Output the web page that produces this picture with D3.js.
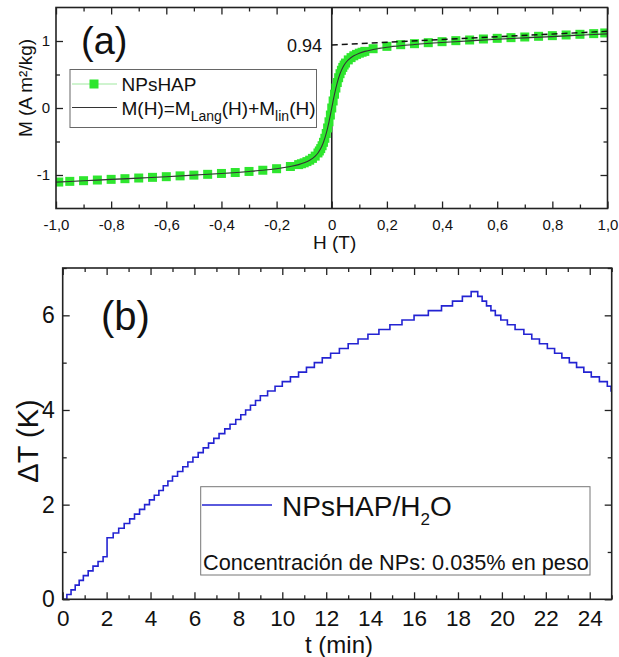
<!DOCTYPE html>
<html>
<head>
<meta charset="utf-8">
<script src="https://cdn.jsdelivr.net/npm/d3@7"></script>
<style>
  html, body { margin: 0; padding: 0; background: #fff; }
  svg { display: block; font-family: "Liberation Sans", Arial, sans-serif; }
</style>
</head>
<body>
<svg id="fig" width="619" height="657"></svg>
<script>
// ---------- Panel (a): magnetization curve ----------
const magH = [-0.99,-0.95,-0.90,-0.85,-0.80,-0.75,-0.70,-0.65,-0.60,-0.55,-0.50,-0.45,-0.40,-0.35,-0.30,-0.25,-0.20,-0.15,
  -0.12,-0.11,-0.10,-0.09,-0.08,-0.07,-0.06,-0.05,-0.045,-0.04,-0.035,-0.03,-0.025,-0.02,-0.015,-0.01,-0.005,0,
  0.005,0.01,0.015,0.02,0.025,0.03,0.035,0.04,0.045,0.05,0.06,0.07,0.08,0.09,0.10,0.11,0.12,
  0.15,0.20,0.25,0.30,0.35,0.40,0.45,0.50,0.55,0.60,0.65,0.70,0.75,0.80,0.85,0.90,0.95,0.99];
const magM = [-1.105,-1.095,-1.085,-1.075,-1.065,-1.055,-1.045,-1.035,-1.025,-1.013,-1.002,-0.99,-0.977,-0.963,-0.947,-0.929,-0.906,-0.873,
  -0.845,-0.832,-0.818,-0.800,-0.779,-0.752,-0.718,-0.671,-0.641,-0.606,-0.563,-0.512,-0.452,-0.380,-0.298,-0.206,-0.105,0,
  0.105,0.206,0.298,0.380,0.452,0.512,0.563,0.606,0.641,0.671,0.718,0.752,0.779,0.800,0.818,0.832,0.845,
  0.885,0.92,0.945,0.96,0.975,0.99,1.005,1.015,1.03,1.04,1.05,1.06,1.07,1.08,1.09,1.10,1.11,1.12];

// fitted M(H) = M_Lang(H) + M_lin(H)
const fitH = [-1,-0.9,-0.8,-0.7,-0.6,-0.5,-0.4,-0.3,-0.25,-0.2,-0.15,-0.12,-0.1,-0.08,-0.06,-0.05,-0.04,-0.03,-0.02,-0.01,0,
  0.01,0.02,0.03,0.04,0.05,0.06,0.08,0.1,0.12,0.15,0.2,0.25,0.3,0.4,0.5,0.6,0.7,0.8,0.9,1];
const fitM = [-1.106,-1.086,-1.066,-1.046,-1.025,-1.002,-0.977,-0.947,-0.929,-0.906,-0.873,-0.845,-0.818,-0.779,-0.718,-0.671,-0.606,-0.512,-0.380,-0.206,0,
  0.206,0.380,0.512,0.606,0.671,0.718,0.779,0.818,0.845,0.873,0.906,0.929,0.947,0.977,1.002,1.025,1.046,1.066,1.086,1.106];

// saturation asymptote (linear term extrapolated from Ms)
const satH = [0, 1];
const satM = [0.94, 1.145];
const satLabel = "0.94";

const xTicksA = [-1,-0.8,-0.6,-0.4,-0.2,0,0.2,0.4,0.6,0.8,1];
const xTickLabelsA = ["-1,0","-0,8","-0,6","-0,4","-0,2","0","0,2","0,4","0,6","0,8","1,0"];
const xMinorA = [-0.9,-0.7,-0.5,-0.3,-0.1,0.1,0.3,0.5,0.7,0.9];
const yTicksA = [-1,0,1];
const yTickLabelsA = ["-1","0","1"];
const yMinorA = [-0.5,0.5];

// ---------- Panel (b): heating curve ----------
const heatT = [0,0.19,0.38,0.57,0.75,0.94,1.16,1.38,1.61,1.84,2.02,2.3,2.55,2.8,3.05,3.27,3.5,3.73,3.95,
  4.17,4.38,4.58,4.79,5.0,5.23,5.47,5.7,5.93,6.17,6.4,6.64,6.88,7.12,7.38,7.62,7.88,8.11,8.33,8.55,8.78,
  9.0,9.33,9.67,10.0,10.37,10.74,11.1,11.46,11.82,12.2,12.6,13.0,13.45,13.9,14.4,14.9,15.45,16.0,16.65,
  17.25,17.75,18.2,18.6,18.9,19.1,19.3,19.5,19.7,19.95,20.25,20.6,21.0,21.36,21.71,22.07,22.4,22.73,
  23.07,23.4,23.73,24.07,24.44,24.8,24.97,25.0];
const heatDT = [0,0.1,0.2,0.3,0.4,0.5,0.6,0.7,0.8,0.9,1.3,1.4,1.5,1.6,1.7,1.8,1.9,2.0,2.1,
  2.2,2.3,2.4,2.5,2.6,2.7,2.8,2.9,3.0,3.1,3.2,3.3,3.4,3.5,3.6,3.7,3.8,3.9,4.0,4.1,4.2,
  4.3,4.4,4.5,4.6,4.7,4.8,4.9,5.0,5.1,5.2,5.3,5.4,5.5,5.6,5.7,5.8,5.9,6.0,6.1,
  6.2,6.3,6.4,6.5,6.4,6.3,6.2,6.1,6.0,5.9,5.8,5.7,5.6,5.5,5.4,5.3,5.2,5.1,
  5.0,4.9,4.8,4.7,4.6,4.5,4.4,4.4];

const xTicksB = [0,2,4,6,8,10,12,14,16,18,20,22,24];
const xTickLabelsB = ["0","2","4","6","8","10","12","14","16","18","20","22","24"];
const xMinorB = [1,3,5,7,9,11,13,15,17,19,21,23,25];
const yTicksB = [0,2,4,6];
const yTickLabelsB = ["0","2","4","6"];
const yMinorB = [1,3,5,7];

const svg = d3.select("#fig");
svg.append("rect").attr("width", 619).attr("height", 657).attr("fill", "#fff");

const FRAME = "#222";

function styleAxis(g) {
  g.select(".domain").remove();
  g.selectAll(".tick line").attr("stroke", FRAME).attr("stroke-width", 1.3);
  g.selectAll(".tick text").attr("fill", "#111");
}

function drawAxes(g, x, y, box, opt) {
  const [x0, x1, y0, y1] = box;
  // bottom (labelled) and top (mirrored) axes
  g.append("g").attr("transform", `translate(0,${y0})`)
    .call(d3.axisBottom(x).tickValues(opt.xt).tickSize(-opt.maj).tickPadding(opt.xpad)
      .tickFormat((d, i) => opt.xl[i]))
    .call(styleAxis)
    .call(s => s.selectAll("text").attr("font-size", opt.xfs).attr("font-family", null));
  g.append("g").attr("transform", `translate(0,${y0})`)
    .call(d3.axisBottom(x).tickValues(opt.xm).tickSize(-opt.min).tickFormat(""))
    .call(styleAxis);
  g.append("g").attr("transform", `translate(0,${y1})`)
    .call(d3.axisTop(x).tickValues(opt.xt).tickSize(-opt.maj).tickFormat(""))
    .call(styleAxis);
  g.append("g").attr("transform", `translate(0,${y1})`)
    .call(d3.axisTop(x).tickValues(opt.xm).tickSize(-opt.min).tickFormat(""))
    .call(styleAxis);
  // left (labelled) and right (mirrored) axes
  g.append("g").attr("transform", `translate(${x0},0)`)
    .call(d3.axisLeft(y).tickValues(opt.yt).tickSize(-opt.maj).tickPadding(opt.ypad)
      .tickFormat((d, i) => opt.yl[i]))
    .call(styleAxis)
    .call(s => s.selectAll("text").attr("font-size", opt.yfs).attr("font-family", null));
  g.append("g").attr("transform", `translate(${x0},0)`)
    .call(d3.axisLeft(y).tickValues(opt.ym).tickSize(-opt.min).tickFormat(""))
    .call(styleAxis);
  g.append("g").attr("transform", `translate(${x1},0)`)
    .call(d3.axisRight(y).tickValues(opt.yt).tickSize(-opt.maj).tickFormat(""))
    .call(styleAxis);
  g.append("g").attr("transform", `translate(${x1},0)`)
    .call(d3.axisRight(y).tickValues(opt.ym).tickSize(-opt.min).tickFormat(""))
    .call(styleAxis);
  g.append("rect").attr("x", x0).attr("y", y1).attr("width", x1 - x0).attr("height", y0 - y1)
    .attr("fill", "none").attr("stroke", FRAME).attr("stroke-width", 1.6);
}

// ===== Panel (a) =====
{
  const L = 56, R = 607.5, T = 7.5, B = 208.5;
  const x = d3.scaleLinear().domain([-1, 1]).range([L, R]);
  const y = d3.scaleLinear().domain([-1.5, 1.5]).range([B, T]);
  const g = svg.append("g");

  svg.append("clipPath").attr("id", "clipA").append("rect")
    .attr("x", L).attr("y", T).attr("width", R - L).attr("height", B - T);
  const plot = g.append("g").attr("clip-path", "url(#clipA)");

  // zero-field guide
  plot.append("line").attr("x1", x(0)).attr("x2", x(0)).attr("y1", T).attr("y2", B)
    .attr("stroke", "#222").attr("stroke-width", 1.6);

  const pts = magH.map((h, i) => [h, magM[i]]);
  plot.append("path").datum(pts)
    .attr("d", d3.line().x(d => x(d[0])).y(d => y(d[1])))
    .attr("fill", "none").attr("stroke", "#9fe89f").attr("stroke-width", 1);
  plot.selectAll("rect.pt").data(pts).join("rect").attr("class", "pt")
    .attr("x", d => x(d[0]) - 4.5).attr("y", d => y(d[1]) - 4.5)
    .attr("width", 9).attr("height", 9).attr("fill", "#2ee62e");

  const fit = fitH.map((h, i) => [h, fitM[i]]);
  plot.append("path").datum(fit)
    .attr("d", d3.line().curve(d3.curveMonotoneX).x(d => x(d[0])).y(d => y(d[1])))
    .attr("fill", "none").attr("stroke", "#333").attr("stroke-width", 1.1);

  plot.append("line")
    .attr("x1", x(satH[0])).attr("y1", y(satM[0])).attr("x2", x(satH[1])).attr("y2", y(satM[1]))
    .attr("stroke", "#111").attr("stroke-width", 1.4).attr("stroke-dasharray", "6,4");

  g.append("text").attr("x", 322).attr("y", y(satM[0]) + 7).attr("text-anchor", "end")
    .attr("font-size", 18).attr("fill", "#111").text(satLabel);

  drawAxes(g, x, y, [L, R, B, T], {
    xt: xTicksA, xl: xTickLabelsA, xm: xMinorA, yt: yTicksA, yl: yTickLabelsA, ym: yMinorA,
    maj: 7, min: 4, xpad: 11, ypad: 6, xfs: 15, yfs: 15
  });

  g.append("text").attr("x", 313).attr("y", 249).attr("font-size", 19).attr("fill", "#111").text("H (T)");
  g.append("text").attr("transform", "translate(32,88) rotate(-90)").attr("text-anchor", "middle")
    .attr("font-size", 19).attr("fill", "#111").text("M (A m²/kg)");
  g.append("text").attr("x", 81).attr("y", 54).attr("font-size", 38).attr("fill", "#111").text("(a)");

  // legend
  const lg = g.append("g");
  lg.append("rect").attr("x", 70).attr("y", 69.5).attr("width", 246.5).attr("height", 58)
    .attr("fill", "#fff").attr("stroke", "#666").attr("stroke-width", 1);
  lg.append("line").attr("x1", 72).attr("x2", 117).attr("y1", 84).attr("y2", 84)
    .attr("stroke", "#9fe89f").attr("stroke-width", 1);
  lg.append("rect").attr("x", 89.5).attr("y", 79.5).attr("width", 9).attr("height", 9).attr("fill", "#2ee62e");
  lg.append("text").attr("x", 121.5).attr("y", 91).attr("font-size", 19).attr("fill", "#111").text("NPsHAP");
  lg.append("line").attr("x1", 72).attr("x2", 117).attr("y1", 107.5).attr("y2", 107.5)
    .attr("stroke", "#333").attr("stroke-width", 1.1);
  const t2 = lg.append("text").attr("x", 121.5).attr("y", 115).attr("font-size", 19).attr("fill", "#111");
  t2.append("tspan").text("M(H)=M");
  t2.append("tspan").attr("font-size", 14).attr("dy", 6).text("Lang");
  t2.append("tspan").attr("dy", -6).text("(H)+M");
  t2.append("tspan").attr("font-size", 14).attr("dy", 6).text("lin");
  t2.append("tspan").attr("dy", -6).text("(H)");
}

// ===== Panel (b) =====
{
  const L = 62.7, R = 611.7, T = 268, B = 599.3;
  const x = d3.scaleLinear().domain([0, 25]).range([L, R]);
  const y = d3.scaleLinear().domain([0, 7]).range([B, T]);
  const g = svg.append("g");

  svg.append("clipPath").attr("id", "clipB").append("rect")
    .attr("x", L).attr("y", T).attr("width", R - L).attr("height", B - T);
  const plot = g.append("g").attr("clip-path", "url(#clipB)");

  const pts = heatT.map((t, i) => [t, heatDT[i]]);
  plot.append("path").datum(pts)
    .attr("d", d3.line().curve(d3.curveStepAfter).x(d => x(d[0])).y(d => y(d[1])))
    .attr("fill", "none").attr("stroke", "#2323d2").attr("stroke-width", 1.6);

  drawAxes(g, x, y, [L, R, B, T], {
    xt: xTicksB, xl: xTickLabelsB, xm: xMinorB, yt: yTicksB, yl: yTickLabelsB, ym: yMinorB,
    maj: 7, min: 4, xpad: 11, ypad: 8, xfs: 22.5, yfs: 23
  });

  g.append("text").attr("x", 305).attr("y", 653).attr("font-size", 24).attr("fill", "#111").text("t (min)");
  g.append("text").attr("transform", "translate(38,441) rotate(-90)").attr("text-anchor", "middle")
    .attr("font-size", 29).attr("fill", "#111").text("ΔT (K)");
  g.append("text").attr("x", 101).attr("y", 330).attr("font-size", 40).attr("fill", "#111").text("(b)");

  // legend
  const lg = g.append("g");
  lg.append("rect").attr("x", 200.7).attr("y", 486.7).attr("width", 389.3).attr("height", 88.3)
    .attr("fill", "#fff").attr("stroke", "#777").attr("stroke-width", 1);
  lg.append("line").attr("x1", 202).attr("x2", 272).attr("y1", 505).attr("y2", 505)
    .attr("stroke", "#2323d2").attr("stroke-width", 1.6);
  const t1 = lg.append("text").attr("x", 282).attr("y", 516).attr("font-size", 28).attr("fill", "#111");
  t1.append("tspan").text("NPsHAP/H");
  t1.append("tspan").attr("font-size", 17).attr("dy", 9).text("2");
  t1.append("tspan").attr("dy", -9).text("O");
  lg.append("text").attr("x", 203).attr("y", 570).attr("font-size", 21.7).attr("fill", "#111")
    .text("Concentración de NPs: 0.035% en peso");
}
</script>
</body>
</html>
